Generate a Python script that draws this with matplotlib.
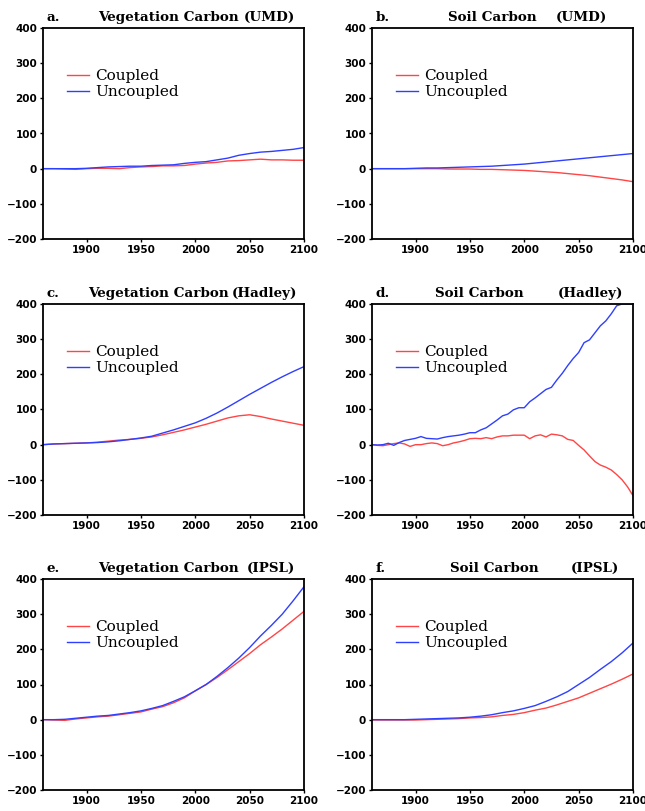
import matplotlib
matplotlib.use("Agg")
import matplotlib.pyplot as plt

# decade years for the smooth series, 5-year for the noisy Hadley soil one
years = list(range(1860, 2101, 10))
years5 = list(range(1860, 2101, 5))

umd_veg_coupled = [0, 0, -1, -2, 0, 1, 1, 0, 3, 5, 6, 8, 8, 9, 13, 16, 18, 22, 23, 25, 27, 25, 25, 24, 24]
umd_veg_uncoupled = [0, 0, 0, 0, 1, 3, 5, 6, 7, 7, 9, 10, 11, 15, 18, 20, 25, 30, 38, 43, 47, 49, 52, 55, 60]

umd_soil_coupled = [0, 0, 0, 0, 0, 0, 0, -1, -1, -1, -2, -2, -3, -4, -5, -7, -9, -11, -14, -17, -20, -24, -28, -32, -37]
umd_soil_uncoupled = [0, 0, 0, 0, 1, 2, 2, 3, 4, 5, 6, 7, 9, 11, 13, 16, 19, 22, 25, 28, 31, 34, 37, 40, 43]

had_veg_coupled = [0, 2, 3, 4, 5, 7, 10, 13, 15, 18, 22, 28, 35, 42, 50, 58, 67, 76, 82, 85, 80, 73, 67, 61, 55]
had_veg_uncoupled = [0, 2, 3, 4, 5, 6, 8, 11, 15, 19, 24, 33, 42, 52, 62, 75, 90, 107, 125, 143, 160, 177, 193, 208, 222]

had_soil_coupled = [0, -2, -3, 0, 3, 5, 2, -5, 0, 0, 3, 5, 3, -3, 0, 5, 8, 12, 17, 18, 17, 20, 17, 22, 25,
                    25, 27, 27, 27, 17, 25, 28, 22, 30, 28, 25, 15, 12, -2, -15, -32, -48, -58, -64, -72,
                    -85, -100, -120, -145]
had_soil_uncoupled = [0, -1, 0, 4, -2, 6, 12, 15, 18, 23, 18, 17, 16, 20, 23, 25, 27, 30, 34, 34, 42, 48, 59,
                      70, 82, 87, 99, 105, 105, 122, 133, 145, 157, 163, 184, 203, 225, 245, 262, 290, 298,
                      318, 338, 352, 372, 395, 400, 400, 400]

ipsl_veg_coupled = [0, -1, -2, 2, 5, 8, 10, 14, 18, 22, 30, 37, 48, 62, 82, 100, 120, 142, 165, 188, 213, 235, 258, 283, 308]
ipsl_veg_uncoupled = [0, 0, 1, 4, 7, 10, 12, 16, 20, 25, 32, 40, 52, 65, 82, 100, 123, 148, 175, 205, 238, 268, 300, 338, 378]

ipsl_soil_coupled = [-1, -1, -1, -1, -1, 0, 1, 2, 3, 5, 6, 8, 12, 15, 20, 27, 33, 42, 52, 62, 75, 88, 101, 115, 130]
ipsl_soil_uncoupled = [0, 0, 0, 0, 1, 2, 3, 4, 5, 7, 10, 14, 20, 25, 32, 40, 52, 65, 80, 100, 120, 143, 165, 190, 218]

panels = [
    ("a.", "Vegetation Carbon", "(UMD)", years, umd_veg_coupled, umd_veg_uncoupled),
    ("b.", "Soil Carbon", "(UMD)", years, umd_soil_coupled, umd_soil_uncoupled),
    ("c.", "Vegetation Carbon", "(Hadley)", years, had_veg_coupled, had_veg_uncoupled),
    ("d.", "Soil Carbon", "(Hadley)", years5, had_soil_coupled, had_soil_uncoupled),
    ("e.", "Vegetation Carbon", "(IPSL)", years, ipsl_veg_coupled, ipsl_veg_uncoupled),
    ("f.", "Soil Carbon", "(IPSL)", years, ipsl_soil_coupled, ipsl_soil_uncoupled),
]
# where the title pieces start / end, in axes fraction
name_x = [0.21, 0.29, 0.172, 0.241, 0.21, 0.299]
model_x = [0.966, 0.90, 0.973, 0.962, 0.966, 0.946]

RED = "#ff4545"
BLUE = "#2f3fff"

fig = plt.figure(figsize=(6.45, 8.11), dpi=100)
lefts = [43 / 645, 372 / 645]
bottoms = [1 - 239 / 811, 1 - 515 / 811, 1 - 790 / 811]
w, h = 261 / 645, 211 / 811

for i, (letter, name, model, x, coup, unc) in enumerate(panels):
    ax = fig.add_axes([lefts[i % 2], bottoms[i // 2], w, h])
    ax.plot(x, coup, color=RED, lw=1.0, label="Coupled")
    ax.plot(x, unc, color=BLUE, lw=1.0, label="Uncoupled")
    ax.set_xlim(1860, 2100)
    ax.set_ylim(-200, 400)
    ax.set_xticks([1900, 1950, 2000, 2050, 2100])
    ax.set_yticks(range(-200, 401, 100))
    ax.tick_params(length=2.2, width=1.0, pad=2, labelsize=7.5, direction="out")
    for lab in ax.get_xticklabels() + ax.get_yticklabels():
        lab.set_fontweight("bold")
        lab.set_family("DejaVu Sans")
    for sp in ax.spines.values():
        sp.set_linewidth(1.3)

    tfont = dict(family="DejaVu Serif", fontweight="bold", fontsize=9.7)
    ax.text(0.015, 1.033, letter, transform=ax.transAxes, ha="left", va="baseline", **tfont)
    ax.text(name_x[i], 1.033, name, transform=ax.transAxes, ha="left", va="baseline", **tfont)
    ax.text(model_x[i], 1.033, model, transform=ax.transAxes, ha="right", va="baseline", **tfont)

    ax.legend(loc="upper left", bbox_to_anchor=(0.092, 0.805), frameon=False,
              borderpad=0, borderaxespad=0, handlelength=1.45, handletextpad=0.4,
              labelspacing=0.15, prop=dict(family="DejaVu Serif", size=11))

fig.savefig("out.png", dpi=100)
